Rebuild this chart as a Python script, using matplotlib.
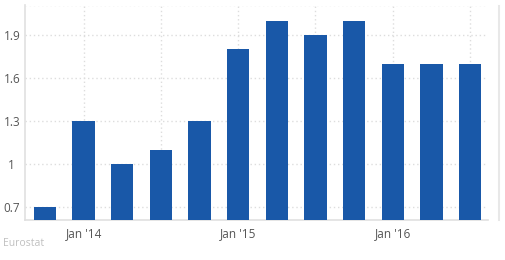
import matplotlib.pyplot as plt
from matplotlib.lines import Line2D

# quarterly values, Oct 2013 .. Jul 2016
quarters = ["Oct '13", "Jan '14", "Apr '14", "Jul '14", "Oct '14", "Jan '15",
            "Apr '15", "Jul '15", "Oct '15", "Jan '16", "Apr '16", "Jul '16"]
values = [0.7, 1.3, 1.0, 1.1, 1.3, 1.8, 2.0, 1.9, 2.0, 1.7, 1.7, 1.7]
ytick_vals = [0.7, 1.0, 1.3, 1.6, 1.9]
ytick_labels = ["0.7", "1", "1.3", "1.6", "1.9"]
xlabel_idx = [1, 5, 9]          # Jan of each year
xgrid_idx = [1, 3, 5, 7, 9, 11]  # Jan and Jul

plt.rcParams['font.family'] = ['Open Sans', 'DejaVu Sans']

fig = plt.figure(figsize=(5.06, 2.6), dpi=100)
ax = fig.add_axes([25 / 506, 40 / 260, 463 / 506, 214.5 / 260])

x = list(range(len(values)))
ax.bar(x, values, width=0.58, color='#1958a8', zorder=3)

ax.set_xlim(-0.518, 11.465)
ax.set_ylim(0.61, 2.105)

# grid
for v in ytick_vals + [2.105]:
    ax.axhline(v, color='#dddddd', linestyle=(0, (1, 2)), linewidth=1, zorder=1)
for i in xgrid_idx:
    ax.axvline(i, color='#dddddd', linestyle=(0, (1, 2)), linewidth=1, zorder=1)

ax.set_yticks(ytick_vals)
ax.set_yticklabels(ytick_labels)
ax.set_xticks(xlabel_idx)
ax.set_xticklabels([quarters[i] for i in xlabel_idx])
ax.tick_params(axis='both', length=0, labelsize=8.5, labelcolor='#555555')
ax.tick_params(axis='y', pad=9.5)
ax.tick_params(axis='x', pad=5)
for lab in ax.get_yticklabels():
    lab.set_horizontalalignment('center')

for s in ['top', 'right']:
    ax.spines[s].set_visible(False)
ax.spines['left'].set_color('#e0e0e0')
ax.spines['bottom'].set_color('#e0e0e0')
ax.spines['left'].set_linewidth(1.2)
ax.spines['bottom'].set_linewidth(1.2)

# panel border on the right
fig.add_artist(Line2D([499 / 506, 499 / 506], [40 / 260, 254 / 260],
                      color='#e8e8e8', linewidth=1.5))

fig.text(3 / 506, 1 - 244 / 260, 'Eurostat', fontsize=7.5, color='#c0c0c0',
         ha='left', va='center')

fig.savefig('out.png', dpi=100)
